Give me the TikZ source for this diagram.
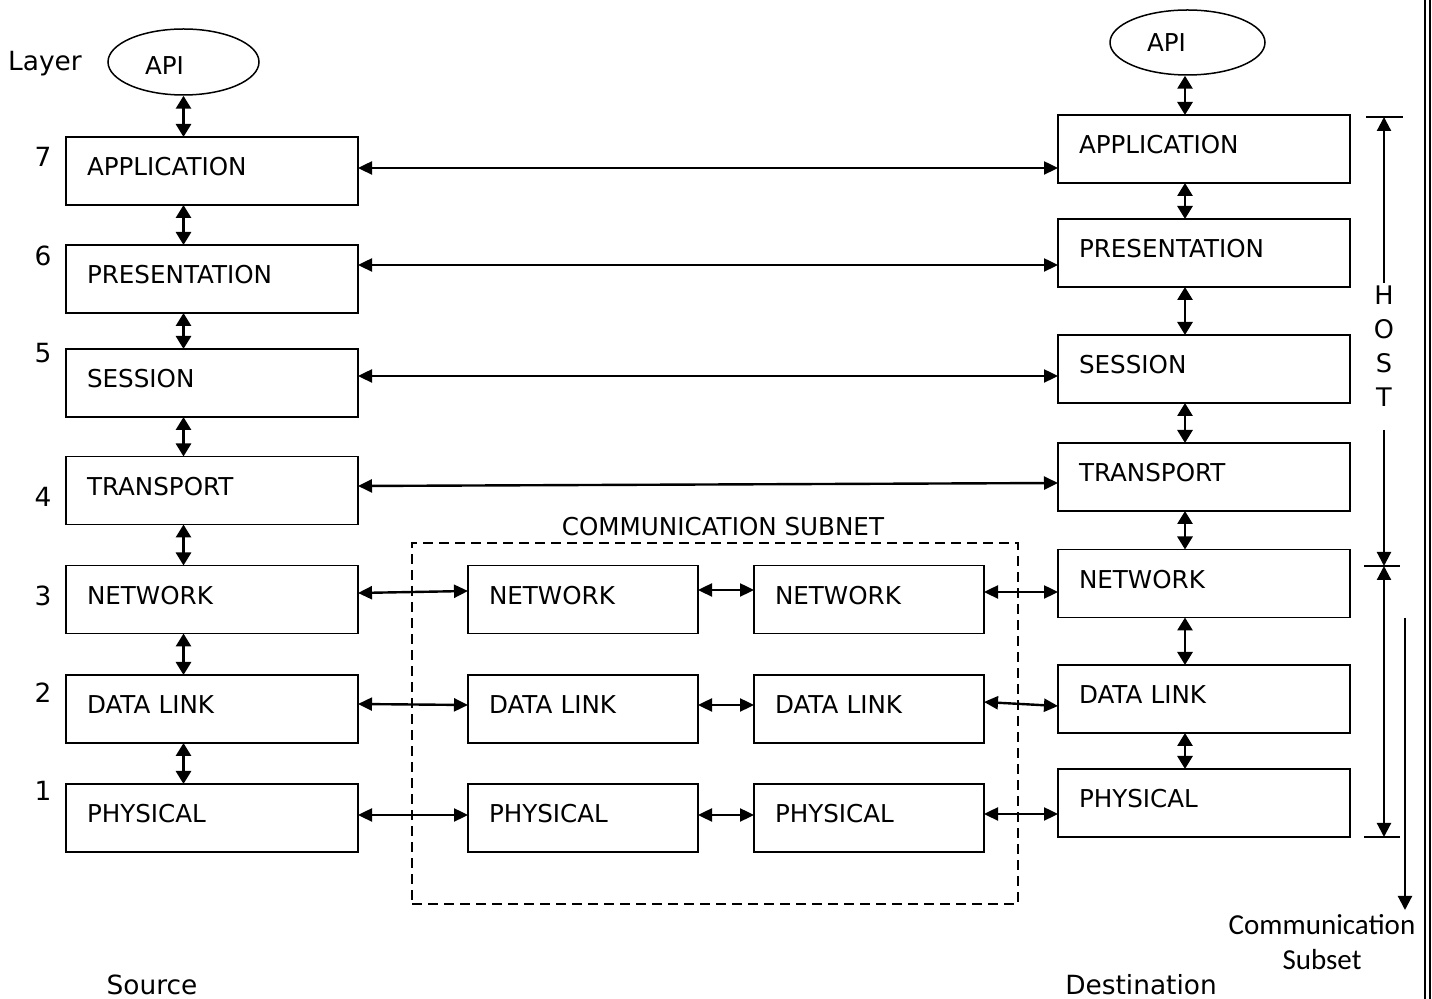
\documentclass[tikz,border=0pt]{standalone}
\usepackage{fontspec}
\setmainfont{DejaVu Sans}
\newfontfamily\carlitofont{Carlito}
\usetikzlibrary{arrows.meta,shapes.geometric}
\begin{document}
\begin{tikzpicture}[x=0.5pt,y=-0.5pt,
  every node/.style={font=\fontsize{12.3pt}{15pt}\selectfont},
  bigtxt/.style={font=\fontsize{13.2pt}{16pt}\selectfont},
  layerbox/.style={draw, line width=0.85pt, inner xsep=10.5pt, inner ysep=0pt, text width=125pt, align=left, minimum height=34pt, text height=9pt, text depth=4pt, outer sep=0pt},
  midbox/.style={layerbox, text width=94pt},
  apinode/.style={draw, ellipse, line width=0.75pt, inner sep=0pt, text height=13pt, text depth=0pt},
  varrow/.style={line width=1.4pt, {Triangle[length=6.5pt,width=7.5pt]}-{Triangle[length=6.5pt,width=7.5pt]}},
  harrow/.style={line width=1.2pt, {Triangle[length=7pt,width=6.5pt]}-{Triangle[length=7pt,width=6.5pt]}},
  dimarrow/.style={line width=1.1pt, -{Triangle[length=7pt,width=7pt]}},
  tick/.style={line width=0.8pt},
  txt/.style={inner sep=0pt}
]
\useasboundingbox (0,0) rectangle (1432,999);

% ---------- left stack ----------
\node[apinode, minimum width=75.5pt, minimum height=33pt] (lapi) at (183.5,62) {API\kern19pt};
\node[layerbox] (lapp)  at (212,171)   {APPLICATION};
\node[layerbox] (lpres) at (212,279)   {PRESENTATION};
\node[layerbox] (lsess) at (212,383)   {SESSION};
\node[layerbox] (ltran) at (212,490.5) {TRANSPORT};
\node[layerbox] (lnet)  at (212,599.5) {NETWORK};
\node[layerbox] (ldl)   at (212,709)   {DATA LINK};
\node[layerbox] (lphy)  at (212,818)   {PHYSICAL};

% ---------- right stack ----------
\node[apinode, text height=9.5pt, minimum width=77.5pt, minimum height=32.5pt] (rapi) at (1187.5,42.5) {API\kern21pt};
\node[layerbox] (rapp)  at (1204,149)   {APPLICATION};
\node[layerbox] (rpres) at (1204,253)   {PRESENTATION};
\node[layerbox] (rsess) at (1204,369)   {SESSION};
\node[layerbox] (rtran) at (1204,477)   {TRANSPORT};
\node[layerbox] (rnet)  at (1204,583.5) {NETWORK};
\node[layerbox] (rdl)   at (1204,699)   {DATA LINK};
\node[layerbox] (rphy)  at (1204,803)   {PHYSICAL};

% ---------- communication subnet ----------
\node[draw, line width=0.75pt, dash pattern=on 5pt off 3pt, minimum width=303pt, minimum height=180.5pt, inner sep=0pt] (subnet) at (715,723.5) {};
\node[txt] (subnetlbl) at (723,527) {COMMUNICATION SUBNET};
\node[midbox] (mnet1) at (583,599.5) {NETWORK};
\node[midbox] (mdl1)  at (583,709)   {DATA LINK};
\node[midbox] (mphy1) at (583,818)   {PHYSICAL};
\node[midbox] (mnet2) at (869,599.5) {NETWORK};
\node[midbox] (mdl2)  at (869,709)   {DATA LINK};
\node[midbox] (mphy2) at (869,818)   {PHYSICAL};

% ---------- layer numbers and labels ----------
\node[txt, bigtxt, anchor=base] (layerlbl) at (45,71) {Layer};
\node[txt, bigtxt] (n7) at (43,157) {7};
\node[txt, bigtxt] (n6) at (43,256) {6};
\node[txt, bigtxt] (n5) at (43,353) {5};
\node[txt, bigtxt] (n4) at (43,497) {4};
\node[txt, bigtxt] (n3) at (43,596) {3};
\node[txt, bigtxt] (n2) at (43,693) {2};
\node[txt, bigtxt] (n1) at (43,791) {1};
\node[txt, bigtxt] (src) at (152,985) {Source};
\node[txt, bigtxt] (dst) at (1141,985) {Destination};

% ---------- vertical arrows, left ----------
\draw[varrow] (lapi.south) -- (lapi.south |- lapp.north);
\draw[varrow] (lapi.south |- lapp.south) -- (lapi.south |- lpres.north);
\draw[varrow] (lapi.south |- lpres.south) -- (lapi.south |- lsess.north);
\draw[varrow] (lapi.south |- lsess.south) -- (lapi.south |- ltran.north);
\draw[varrow] (lapi.south |- ltran.south) -- (lapi.south |- lnet.north);
\draw[varrow] (lapi.south |- lnet.south) -- (lapi.south |- ldl.north);
\draw[varrow] (lapi.south |- ldl.south) -- (lapi.south |- lphy.north);

% ---------- vertical arrows, right ----------
\coordinate (rx) at (1185,0);
\draw[varrow] (rapi.south -| rx) -- (rx |- rapp.north);
\draw[varrow] (rx |- rapp.south) -- (rx |- rpres.north);
\draw[varrow] (rx |- rpres.south) -- (rx |- rsess.north);
\draw[varrow] (rx |- rsess.south) -- (rx |- rtran.north);
\draw[varrow] (rx |- rtran.south) -- (rx |- rnet.north);
\draw[varrow] (rx |- rnet.south) -- (rx |- rdl.north);
\draw[varrow] (rx |- rdl.south) -- (rx |- rphy.north);

% ---------- peer arrows ----------
\coordinate (ha) at ([yshift=1.5pt]lapp.east);
\coordinate (hp) at ([yshift=7pt]lpres.east);
\coordinate (hs) at ([yshift=3.5pt]lsess.east);
\coordinate (ht) at ([yshift=2.25pt]ltran.east);
\draw[harrow] (ha) -- (ha -| rapp.west);
\draw[harrow] (hp) -- (hp -| rpres.west);
\draw[harrow] (hs) -- (hs -| rsess.west);
\draw[harrow] (ht) -- ([yshift=1.5pt]ht -| rtran.west);

\coordinate (hn) at ([yshift=3.25pt]lnet.east);
\coordinate (hd) at ([yshift=2.5pt]ldl.east);
\coordinate (hy) at ([yshift=1.5pt]lphy.east);
\draw[harrow] (hn) -- ([yshift=1pt]hn -| mnet1.west);
\draw[harrow] (hd) -- ([yshift=-0.5pt]hd -| mdl1.west);
\draw[harrow] (hy) -- (hy -| mphy1.west);

\coordinate (mn) at ([yshift=4.75pt]mnet1.east);
\coordinate (md) at ([yshift=2pt]mdl1.east);
\coordinate (my) at ([yshift=1.5pt]mphy1.east);
\draw[harrow] (mn) -- (mn -| mnet2.west);
\draw[harrow] (md) -- (md -| mdl2.west);
\draw[harrow] (my) -- (my -| mphy2.west);

\coordinate (rn) at ([yshift=3.75pt]mnet2.east);
\coordinate (rd) at ([yshift=3.5pt]mdl2.east);
\coordinate (ry) at ([yshift=2pt]mphy2.east);
\draw[harrow] (rn) -- (rn -| rnet.west);
\draw[harrow] (rd) -- ([yshift=-2pt]rd -| rdl.west);
\draw[harrow] (ry) -- (ry -| rphy.west);

% ---------- HOST dimension ----------
\coordinate (t1a) at (1366,117); \coordinate (t1b) at (1403,117);
\coordinate (t2a) at (1364,566); \coordinate (t2b) at (1400,566);
\coordinate (t3a) at (1364,837); \coordinate (t3b) at (1400,837);
\coordinate (d1) at (1384,117);
\coordinate (d2) at (1384,566);
\coordinate (d3) at (1384,837);
\draw[tick] (t1a) -- (t1b);
\draw[tick] (t2a) -- (t2b);
\draw[tick] (t3a) -- (t3b);
\node[txt, align=center, font=\fontsize{12.8pt}{17pt}\selectfont] (host) at (1384,346) {H\\O\\S\\T};
\draw[dimarrow] (1384,283) -- (d1);
\draw[dimarrow] (1384,430) -- (d2);
\draw[line width=1.1pt, {Triangle[length=7pt,width=7pt]}-{Triangle[length=7pt,width=7pt]}] (d2) -- (d3);

% ---------- communication subset ----------
\coordinate (cs1) at (1405,618);
\coordinate (cs2) at (1405,910);
\draw[dimarrow] (cs1) -- (cs2);
\node[txt, align=center, font=\carlitofont\fontsize{14.5pt}{17.5pt}\selectfont] (cslbl) at (1322,942) {Communication\\Subset};

% ---------- right border ----------
\draw[line width=0.75pt] (1425,0) -- (1425,999);
\draw[line width=0.75pt] (1430,0) -- (1430,999);
\end{tikzpicture}
\end{document}
